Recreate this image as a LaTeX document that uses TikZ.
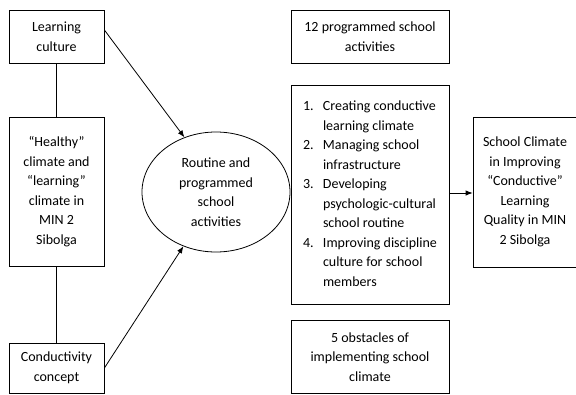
\documentclass[tikz,border=0pt]{standalone}
\usepackage{fontspec}
\setmainfont{Carlito}
\usetikzlibrary{shapes.geometric,arrows.meta}
\begin{document}
\begin{tikzpicture}[x=1pt,y=-1pt,
  every node/.style={font=\fontsize{14}{19.5}\selectfont},
  box/.style={draw=black,line width=0.8pt,rectangle,align=center,inner sep=0pt},
  conn/.style={draw=black,line width=0.8pt},
  arr/.style={conn,-{Latex[length=7pt,width=5.5pt]}}]
\useasboundingbox (0,0) rectangle (576,394);
% left column
\node[box,minimum width=95pt,minimum height=53pt] (lc) at (56.5,36.5) {Learning\\culture};
\node[box,minimum width=95pt,minimum height=149pt] (hc) at (56.5,191.5) {“Healthy”\\climate and\\“learning”\\climate in\\MIN 2\\Sibolga};
\node[box,minimum width=95pt,minimum height=50pt] (cc) at (56.5,368) {Conductivity\\concept};
% ellipse
\node[ellipse,draw=black,line width=0.8pt,minimum width=148pt,minimum height=120pt,align=center,inner sep=0pt] (ell) at (216,192) {Routine and\\programmed\\school\\activities};
% middle column
\node[box,minimum width=158pt,minimum height=53pt] (prog) at (370,36.5) {12 programmed school\\activities};
\node[box,minimum width=158pt,minimum height=219pt] (list) at (370,194.5) {\makebox[134pt][l]{%
\begin{tabular}{@{}l@{}l@{}}
\makebox[20pt][l]{1.} & Creating conductive\\
 & learning climate\\
2. & Managing school\\
 & infrastructure\\
3. & Developing\\
 & psychologic-cultural\\
 & school routine\\
4. & Improving discipline\\
 & culture for school\\
 & members
\end{tabular}}};
\node[box,minimum width=158pt,minimum height=73.5pt] (obs) at (370,356.75) {5 obstacles of\\implementing school\\climate};
% right box
\node[box,minimum width=104pt,minimum height=150pt] (sc) at (525,192) {School Climate\\in Improving\\“Conductive”\\Learning\\Quality in MIN\\2 Sibolga};
% connectors
\draw[conn] (lc) -- (hc);
\draw[conn] (hc) -- (cc);
\coordinate (lcs) at (lc.east |- 0,30);
\coordinate (ccs) at (cc.east |- 0,368);
\draw[arr] (lcs) -- (ell.120);
\draw[arr] (ccs) -- (ell.239);
\coordinate (ls) at (list.east |- 0,193);
\draw[arr] (ls) -- (ls -| sc.west);
\end{tikzpicture}
\end{document}
